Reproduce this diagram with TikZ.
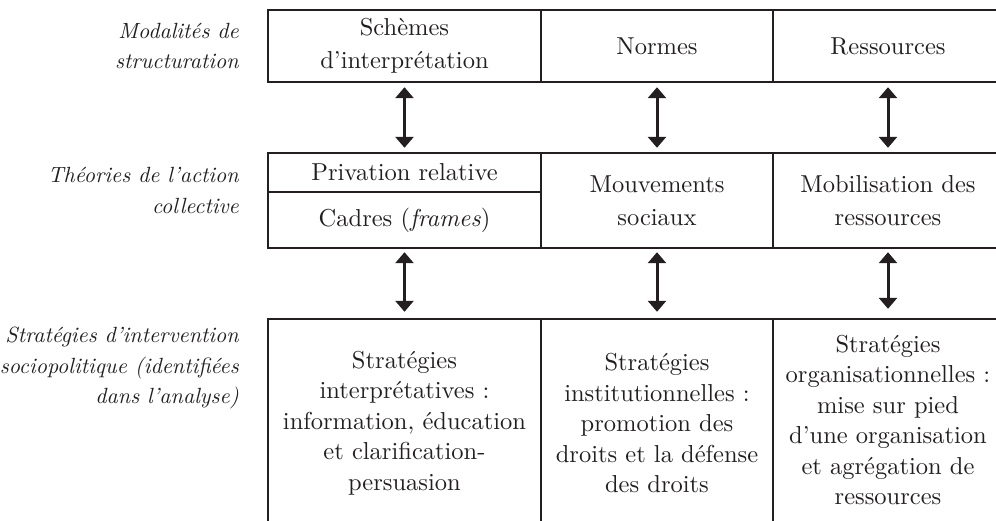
\documentclass[tikz,border=0pt]{standalone}
\usepackage{fontspec}
\setmainfont{lmroman10-regular.otf}[ItalicFont=lmroman10-italic.otf]
\usetikzlibrary{arrows.meta}
\definecolor{ink}{HTML}{231F20}
\begin{document}
\begin{tikzpicture}[x=1pt,y=-1pt,
  every node/.style={text=ink},
  txt/.style={font=\fontsize{24.5}{30.5}\selectfont},
  cell/.style={txt,rectangle,inner sep=0pt,align=center},
  lbl/.style={font=\fontsize{22}{30.5}\selectfont\itshape,align=right,anchor=east,inner sep=0pt},
  outer/.style={draw=ink,line width=2.3pt},
  inner/.style={draw=ink,line width=1.8pt},
  dbl/.style={draw=ink,line width=3pt,{Triangle[width=18pt,length=11pt]}-{Triangle[width=18pt,length=11pt]}}
]
\useasboundingbox (0,0) rectangle (996,520);
\clip (0,0) rectangle (996,520);
% top row
\node[cell,minimum width=273pt,minimum height=72pt,font=\fontsize{24.5}{33}\selectfont] (t1) at (404.5,46) {Schèmes\\d'interprétation};
\node[cell,minimum width=232pt,minimum height=72pt] (t2) at (657,46) {Normes};
\node[cell,minimum width=230pt,minimum height=72pt] (t3) at (888,46) {Ressources};
% middle row
\node[cell,minimum width=273pt,minimum height=39pt] (m1a) at (404.5,172.5) {Privation relative};
\node[cell,minimum width=273pt,minimum height=56pt] (m1b) at (404.5,220) {Cadres (\textit{frames})};
\node[cell,minimum width=232pt,minimum height=95pt,font=\fontsize{24.5}{33}\selectfont] (m2) at (657,200.5) {Mouvements\\sociaux};
\node[cell,minimum width=230pt,minimum height=95pt,font=\fontsize{24.5}{33}\selectfont] (m3) at (888,200.5) {Mobilisation des\\ressources};
% bottom row
\node[cell,minimum width=273pt,minimum height=208pt] (b1) at (404.5,423) {Stratégies\\interprétatives :\\information, éducation\\et clarification-\\persuasion};
\node[cell,minimum width=232pt,minimum height=208pt] (b2) at (657,423) {Stratégies\\institutionnelles :\\promotion des\\droits et la défense\\des droits};
\node[cell,minimum width=230pt,minimum height=208pt] (b3) at (888,420) {Stratégies\\organisationnelles :\\mise sur pied\\d'une organisation\\et agrégation de\\ressources};
% left labels
\node[lbl] (l1) at (239,46) {Modalités de\\structuration};
\node[lbl] (l2) at (239,190.5) {Théories de l'action\\collective};
\node[lbl] (l3) at (239,368) {Stratégies d'intervention\\sociopolitique (identifiées\\dans l'analyse)};
% grid
\draw[inner] (t1.north east) -- (t1.south east);
\draw[inner] (t2.north east) -- (t2.south east);
\draw[outer] (t1.north west) rectangle (t3.south east);
\draw[inner] (m1a.south west) -- (m1a.south east);
\draw[inner] (m1a.north east) -- (m1b.south east);
\draw[inner] (m2.north east) -- (m2.south east);
\draw[outer] (m1a.north west) rectangle (m3.south east);
\draw[inner] (b1.north east) -- (b1.south east);
\draw[inner] (b2.north east) -- (b2.south east);
\draw[outer] (b1.north west) rectangle ([yshift=-3pt]b3.south east);
% arrows
\draw[dbl,shorten <=5pt,shorten >=5pt] (t1.south) -- (m1a.north);
\draw[dbl,shorten <=5pt,shorten >=5pt] (t2.south) -- (m2.north);
\draw[dbl,shorten <=5pt,shorten >=5pt] (t3.south) -- (m3.north);
\draw[dbl,shorten <=4pt,shorten >=7pt] (m1b.south) -- (b1.north);
\draw[dbl,shorten <=4pt,shorten >=7pt] (m2.south) -- (b2.north);
\draw[dbl,shorten <=4pt,shorten >=7pt] (m3.south) -- (b3.north);
\end{tikzpicture}
\end{document}
